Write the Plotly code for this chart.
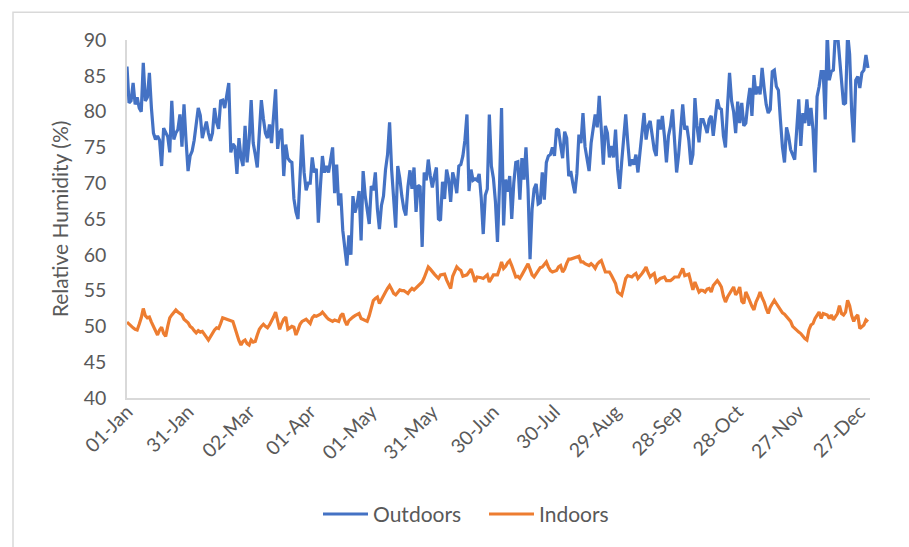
import pandas as pd
import plotly.graph_objects as go

# Daily relative humidity (%) for one year, 1 Jan - 31 Dec
outdoors = [
    86.3, 81.2, 81.5, 84.0, 81.0, 82.0, 80.5, 80.0, 86.8, 81.5,
    82.0, 85.4, 80.5, 77.0, 76.1, 76.6, 76.0, 72.4, 77.7, 77.0,
    76.5, 74.3, 81.5, 76.1, 77.0, 77.5, 79.6, 75.1, 81.0, 76.0,
    71.7, 73.8, 74.5, 76.0, 78.0, 80.5, 79.5, 76.3, 77.5, 78.6,
    77.0, 75.9, 77.0, 80.5, 78.5, 77.6, 81.5, 81.6, 80.5, 82.0,
    84.0, 74.3, 75.5, 75.1, 71.3, 76.3, 73.6, 72.4, 78.0, 72.9,
    76.0, 81.6, 75.6, 74.0, 72.2, 77.0, 81.6, 79.0, 77.0, 76.3,
    78.2, 75.6, 79.0, 83.1, 74.8, 77.0, 77.6, 71.0, 75.4, 73.5,
    73.1, 72.9, 67.8, 66.0, 65.0, 71.0, 76.8, 71.5, 69.0, 70.0,
    70.0, 73.6, 71.5, 72.0, 64.5, 69.5, 73.8, 71.5, 72.4, 71.5,
    73.5, 75.0, 68.6, 72.6, 66.9, 68.6, 63.4, 61.0, 58.5, 62.7,
    60.0, 68.2, 65.9, 67.0, 68.9, 62.0, 71.7, 68.3, 66.0, 64.3,
    69.6, 69.0, 71.5, 66.4, 63.6, 66.9, 68.2, 71.9, 74.0, 78.5,
    71.9, 67.0, 63.8, 72.4, 70.7, 68.2, 66.4, 65.5, 69.5, 71.8,
    69.2, 72.2, 66.0, 69.7, 69.5, 61.1, 71.5, 70.4, 73.3, 71.0,
    69.4, 71.0, 72.2, 65.0, 64.8, 70.2, 67.8, 71.9, 70.5, 67.4,
    71.5, 70.4, 68.6, 72.4, 72.6, 73.8, 76.0, 79.6, 68.9, 71.9,
    70.4, 70.6, 70.4, 71.3, 68.0, 62.9, 68.3, 69.2, 79.6, 72.4,
    70.7, 67.4, 61.8, 69.7, 80.5, 64.1, 70.5, 68.8, 71.0, 65.0,
    70.0, 72.9, 73.0, 67.7, 73.5, 70.5, 75.0, 69.2, 59.4, 66.4,
    69.2, 69.9, 67.1, 67.3, 71.5, 67.7, 72.9, 73.8, 74.0, 75.0,
    73.8, 77.6, 77.4, 75.3, 73.5, 77.2, 76.3, 71.0, 71.7, 70.0,
    68.6, 71.3, 76.8, 75.6, 79.8, 75.1, 73.0, 71.7, 75.6, 77.6,
    79.6, 77.8, 82.2, 77.5, 72.6, 78.0, 77.0, 73.6, 75.2, 73.6,
    77.5, 72.0, 69.2, 72.9, 76.1, 79.6, 75.7, 72.4, 73.3, 72.6,
    74.0, 71.5, 74.3, 77.5, 79.8, 76.1, 78.0, 78.7, 76.6, 74.7,
    73.8, 78.9, 77.5, 79.4, 76.6, 72.9, 76.6, 78.0, 80.3, 76.1,
    71.5, 74.0, 78.0, 81.0, 77.5, 78.0, 76.0, 72.6, 74.0, 81.9,
    78.0, 75.7, 78.9, 78.9, 78.0, 77.0, 78.9, 79.4, 76.6, 79.4,
    81.7, 80.5, 80.3, 76.6, 75.0, 80.7, 85.4, 81.5, 80.0, 77.0,
    81.4, 78.4, 81.2, 78.0, 78.4, 81.2, 83.3, 79.4, 85.1, 82.4,
    83.5, 82.4, 86.1, 83.3, 81.0, 79.8, 80.3, 85.6, 85.8, 83.5,
    83.0, 78.8, 75.0, 72.9, 77.8, 76.6, 74.7, 74.0, 73.3, 77.5,
    81.7, 75.2, 79.8, 78.4, 81.7, 78.0, 80.5, 77.5, 71.5, 82.1,
    83.5, 85.6, 85.6, 78.9, 91.0, 84.4, 85.6, 85.8, 91.0, 91.0,
    88.0, 84.4, 81.0, 81.2, 91.0, 88.0, 80.0, 75.7, 84.4, 84.9,
    83.3, 85.4, 85.8, 87.9, 86.1,
]

indoors = [
    50.6, 50.3, 50.0, 49.8, 49.6, 49.5, 50.3, 51.2, 52.5, 51.5,
    51.2, 51.3, 50.6, 50.0, 49.2, 48.8, 49.5, 49.9, 49.0, 48.6,
    50.0, 51.2, 51.6, 52.0, 52.3, 52.0, 51.8, 51.6, 51.0, 50.7,
    50.5, 50.0, 49.8, 49.4, 49.1, 49.4, 49.2, 49.3, 48.8, 48.5,
    48.1, 48.6, 49.0, 49.5, 49.8, 49.7, 50.4, 51.2, 51.1, 51.0,
    51.0, 50.9, 50.7, 49.8, 48.8, 48.0, 47.4, 47.9, 48.1, 47.6,
    47.4, 48.1, 47.8, 47.9, 48.8, 49.6, 50.0, 50.3, 50.0, 49.8,
    50.2, 50.7, 51.3, 52.0, 51.0, 49.6, 50.4, 51.0, 51.3, 49.6,
    49.8, 50.0, 49.9, 48.8, 49.5, 50.3, 50.7, 50.8, 51.0, 50.7,
    50.4, 51.2, 51.5, 51.4, 51.5, 51.7, 52.0, 51.6, 51.3, 51.0,
    50.8, 50.7, 50.9, 50.8, 50.7, 51.5, 51.8, 50.8, 50.2, 50.8,
    51.1, 51.3, 51.5, 51.7, 51.8, 51.1, 51.0, 50.8, 50.7, 51.5,
    52.5, 53.6, 53.9, 54.1, 53.2, 53.8, 54.4, 54.8, 55.3, 55.7,
    55.2, 54.6, 54.4, 54.8, 55.1, 55.0, 55.0, 54.8, 54.6, 55.0,
    55.3, 55.1, 55.4, 55.7, 55.9, 56.2, 56.8, 57.6, 58.3, 58.0,
    57.6, 57.3, 57.0, 56.7, 57.2, 57.3, 57.3, 56.5, 55.8, 55.3,
    57.0, 57.8, 58.3, 58.0, 57.8, 57.0, 57.1, 57.2, 57.6, 58.0,
    57.2, 56.2, 56.9, 56.9, 56.8, 56.7, 57.0, 57.2, 56.2, 56.8,
    57.2, 57.2, 57.2, 58.0, 59.0, 58.1, 58.4, 58.9, 59.2, 58.5,
    57.6, 56.9, 57.0, 56.7, 57.2, 57.8, 58.4, 58.75, 58.0, 57.2,
    56.9, 57.3, 57.8, 58.2, 58.3, 58.7, 59.0, 58.3, 57.8, 57.6,
    57.7, 57.8, 58.3, 58.5, 57.6, 58.0, 58.8, 59.4, 59.4, 59.5,
    59.6, 59.7, 59.8, 59.0, 59.0, 58.75, 58.6, 58.5, 58.75, 58.5,
    58.1, 58.7, 59.0, 59.2, 58.4, 57.6, 57.6, 57.6, 57.1, 56.5,
    56.0, 54.8, 54.5, 54.35, 55.5, 56.7, 57.1, 57.0, 56.9, 57.2,
    57.4, 56.7, 57.0, 57.4, 57.8, 58.3, 57.5, 56.9, 57.2, 57.4,
    56.2, 56.5, 56.7, 56.8, 56.9, 56.4, 56.4, 56.4, 56.6, 56.9,
    56.9, 56.9, 57.5, 58.1, 57.1, 57.2, 57.3, 56.2, 55.1, 56.2,
    55.5, 54.8, 55.05, 55.0, 54.8, 55.2, 55.3, 54.8, 55.7, 56.0,
    56.4, 56.0, 55.5, 54.2, 53.4, 54.1, 54.6, 55.2, 55.5, 54.4,
    54.8, 55.5, 53.5, 53.2, 54.8, 54.2, 53.4, 52.8, 52.3, 53.4,
    54.0, 54.8, 54.0, 53.4, 52.5, 51.8, 52.7, 53.2, 53.65, 53.2,
    52.7, 52.3, 51.9, 51.7, 51.4, 51.0, 50.7, 50.0, 49.7, 49.5,
    49.2, 49.0, 48.6, 48.3, 48.1, 49.5, 50.2, 50.4, 51.1, 51.6,
    52.0, 51.1, 51.8, 51.7, 51.6, 51.1, 51.6, 50.9, 51.3, 51.8,
    52.9, 51.8, 51.6, 52.0, 53.65, 52.9, 51.5, 50.7, 51.3, 51.6,
    49.7, 49.95, 50.2, 50.9, 50.65,
]

tick_labels = ["01-Jan", "31-Jan", "02-Mar", "01-Apr", "01-May", "31-May",
               "30-Jun", "30-Jul", "29-Aug", "28-Sep", "28-Oct", "27-Nov", "27-Dec"]

dates = pd.date_range("2021-01-01", periods=len(outdoors), freq="D")
tick_dates = [dates[i * 30] for i in range(len(tick_labels))]

FONT = "Lato, Open Sans, sans-serif"
GREY_TEXT = "#595959"
AXIS_GREY = "#D9D9D9"

fig = go.Figure()
fig.add_trace(go.Scatter(x=dates, y=outdoors, mode="lines", name="Outdoors",
                         line=dict(color="#4472C4", width=3.2)))
fig.add_trace(go.Scatter(x=dates, y=indoors, mode="lines", name="Indoors",
                         line=dict(color="#ED7D31", width=3.2)))

L, R, T, B = 127, 39, 40, 147
W, H = 909, 547
pw, ph = W - L - R, H - T - B

def px_x(p):
    return (p - L) / pw

def px_y(p):
    return (H - B - p) / ph

fig.update_layout(
    width=W, height=H,
    margin=dict(l=L, r=R, t=T, b=B),
    paper_bgcolor="white", plot_bgcolor="white",
    font=dict(family=FONT, size=19, color=GREY_TEXT),
    showlegend=True,
    legend=dict(orientation="h", x=px_x(318), xanchor="left",
                y=px_y(517), yanchor="middle",
                font=dict(size=21, color=GREY_TEXT),
                itemwidth=45, entrywidth=106, entrywidthmode="pixels",
                bgcolor="rgba(0,0,0,0)"),
    xaxis=dict(
        range=[pd.Timestamp("2021-01-01"), pd.Timestamp("2022-01-01")],
        tickmode="array", tickvals=tick_dates, ticktext=tick_labels,
        tickangle=-45, showgrid=False, zeroline=False,
        showline=True, linecolor=AXIS_GREY, linewidth=1.5,
        ticks="", ticklabelstandoff=-7,
        tickfont=dict(size=19.5, color=GREY_TEXT),
    ),
    yaxis=dict(
        range=[40, 90], dtick=5, tick0=40,
        showgrid=False, zeroline=False,
        showline=True, linecolor=AXIS_GREY, linewidth=1.5,
        ticks="", ticklabelstandoff=15,
        tickfont=dict(size=19.5, color=GREY_TEXT),
        title=dict(text="Relative Humidity (%)", standoff=9,
                   font=dict(size=21, color=GREY_TEXT)),
    ),
    shapes=[dict(type="rect", xref="paper", yref="paper",
                 x0=px_x(13), x1=px_x(915), y0=px_y(560), y1=px_y(12),
                 line=dict(color=AXIS_GREY, width=1.5), layer="below")],
)

fig.write_html("out.html")
